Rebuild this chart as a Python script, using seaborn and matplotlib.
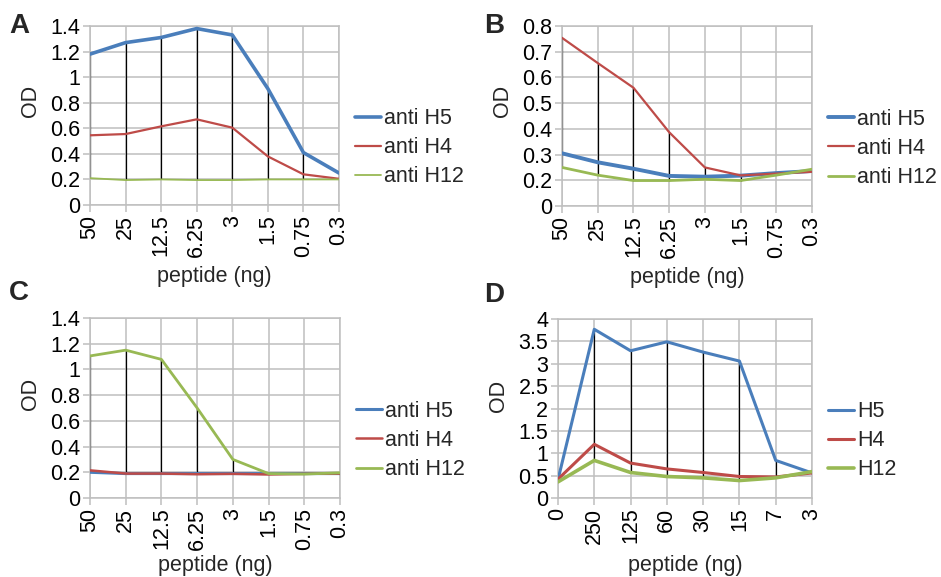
import pandas as pd
import matplotlib
matplotlib.use("Agg")
import matplotlib.pyplot as plt
import seaborn as sns

# x categories (peptide amount, ng)
dil_abc = ["50", "25", "12.5", "6.25", "3", "1.5", "0.75", "0.3"]
dil_d = ["0", "250", "125", "60", "30", "15", "7", "3"]

# panel A
a_h5 = [1.18, 1.27, 1.31, 1.38, 1.33, 0.91, 0.41, 0.25]
a_h4 = [0.545, 0.555, 0.615, 0.67, 0.605, 0.38, 0.24, 0.205]
a_h12 = [0.21, 0.195, 0.2, 0.195, 0.195, 0.2, 0.2, 0.2]

# panel B
b_h5 = [0.305, 0.27, 0.245, 0.217, 0.214, 0.218, 0.228, 0.236]
b_h4 = [0.754, 0.656, 0.56, 0.387, 0.25, 0.219, 0.226, 0.233]
b_h12 = [0.25, 0.22, 0.199, 0.199, 0.204, 0.199, 0.22, 0.243]

# panel C
c_h5 = [0.2, 0.19, 0.19, 0.19, 0.19, 0.19, 0.19, 0.19]
c_h4 = [0.215, 0.19, 0.19, 0.185, 0.188, 0.183, 0.188, 0.19]
c_h12 = [1.105, 1.15, 1.078, 0.7, 0.3, 0.19, 0.186, 0.196]

# panel D
d_h5 = [0.41, 3.77, 3.29, 3.49, 3.26, 3.06, 0.84, 0.56]
d_h4 = [0.42, 1.2, 0.78, 0.65, 0.57, 0.48, 0.47, 0.56]
d_h12 = [0.36, 0.84, 0.57, 0.48, 0.45, 0.39, 0.45, 0.59]

names_abc = ["anti H5", "anti H4", "anti H12"]
names_d = ["H5", "H4", "H12"]

yt_a = [0, 0.2, 0.4, 0.6, 0.8, 1.0, 1.2, 1.4]
yl_a = ["0", "0.2", "0.4", "0.6", "0.8", "1", "1.2", "1.4"]
# panel B: the bottom gridline sits one step below 0.2 but is labelled 0
yt_b = [0.1, 0.2, 0.3, 0.4, 0.5, 0.6, 0.7, 0.8]
yl_b = ["0", "0.2", "0.3", "0.4", "0.5", "0.6", "0.7", "0.8"]
yt_d = [0, 0.5, 1, 1.5, 2, 2.5, 3, 3.5, 4]
yl_d = ["0", "0.5", "1", "1.5", "2", "2.5", "3", "3.5", "4"]

colors = ["#4A7EBB", "#BE4B48", "#98B954"]
GRID = "#BFBFBF"
W, H = 941, 577

sns.set_theme(style="white")
plt.rcParams["font.family"] = ["Liberation Sans", "DejaVu Sans"]

fig = plt.figure(figsize=(W / 100, H / 100), dpi=100)


def add_ax(l, t, r, b):
    return fig.add_axes([l / W, 1 - b / H, (r - l) / W, (b - t) / H])


panels = [
    # letter, axes box (px), letter pos, cats, series, names, ticks, line widths, xlabel gap, ylabel y (px)
    ("A", (90, 26, 339, 205), (9, 33), dil_abc, [a_h5, a_h4, a_h12], names_abc, (yt_a, yl_a), [2.6, 1.6, 1.3], 61, 101),
    ("B", (562, 26, 812, 206), (484, 33), dil_abc, [b_h5, b_h4, b_h12], names_abc, (yt_b, yl_b), [2.8, 1.6, 2.0], 61, 101),
    ("C", (90, 318, 340, 498), (9, 300), dil_abc, [c_h5, c_h4, c_h12], names_abc, (yt_a, yl_a), [2.2, 1.8, 2.0], 57, 394),
    ("D", (558, 319, 812, 498), (484, 302), dil_d, [d_h5, d_h4, d_h12], names_d, (yt_d, yl_d), [2.2, 2.2, 2.6], 57, 396),
]

for letter, box, lpos, cats, series, names, (yt, yl), lws, xgap, ylab_y in panels:
    l, t, r, b = box
    ax = add_ax(l, t, r, b)
    pos = list(range(len(cats)))
    df = pd.concat(
        [pd.DataFrame({"pos": pos, "OD": vals, "series": n}) for vals, n in zip(series, names)]
    )

    # high-low lines between the series at each category
    wide = df.pivot(index="pos", columns="series", values="OD")
    ax.vlines(wide.index, wide.min(axis=1), wide.max(axis=1), color="black", lw=0.9, zorder=2)

    sns.lineplot(
        data=df, x="pos", y="OD", hue="series", size="series",
        palette=dict(zip(names, colors)), sizes=dict(zip(names, lws)),
        hue_order=names, size_order=names, sort=False, ax=ax, zorder=3,
    )

    ax.set_xlim(0, len(cats) - 1)
    ax.set_ylim(yt[0], yt[-1])
    ax.set_xticks(pos, cats, rotation=90)
    ax.set_yticks(yt, yl)
    ax.grid(True, color=GRID, lw=1.1)
    ax.set_axisbelow(True)
    for s in ax.spines.values():
        s.set_color(GRID)
        s.set_linewidth(1.1)
    ax.tick_params(axis="both", length=5, width=1.1, color=GRID, labelsize=15.5,
                   labelcolor="black", pad=2, left=True, bottom=True)

    ax.set_xlabel("peptide (ng)", fontsize=15.5)
    ax.set_ylabel("OD", fontsize=15.5)
    ax.xaxis.set_label_coords(0.5, -xgap / (b - t))
    ax.yaxis.set_label_coords(-49 / (r - l), (b - ylab_y) / (b - t))

    sns.move_legend(
        ax, "center left", bbox_to_anchor=(1.064, 0.32),
        frameon=False, title=None, fontsize=15.5, handlelength=1.2, handletextpad=0.15,
        labelspacing=0.38, borderaxespad=0, borderpad=0,
    )

    fig.text(lpos[0] / W, 1 - lpos[1] / H, letter, fontsize=20, fontweight="bold", va="baseline")

fig.savefig("out.png", dpi=100)
